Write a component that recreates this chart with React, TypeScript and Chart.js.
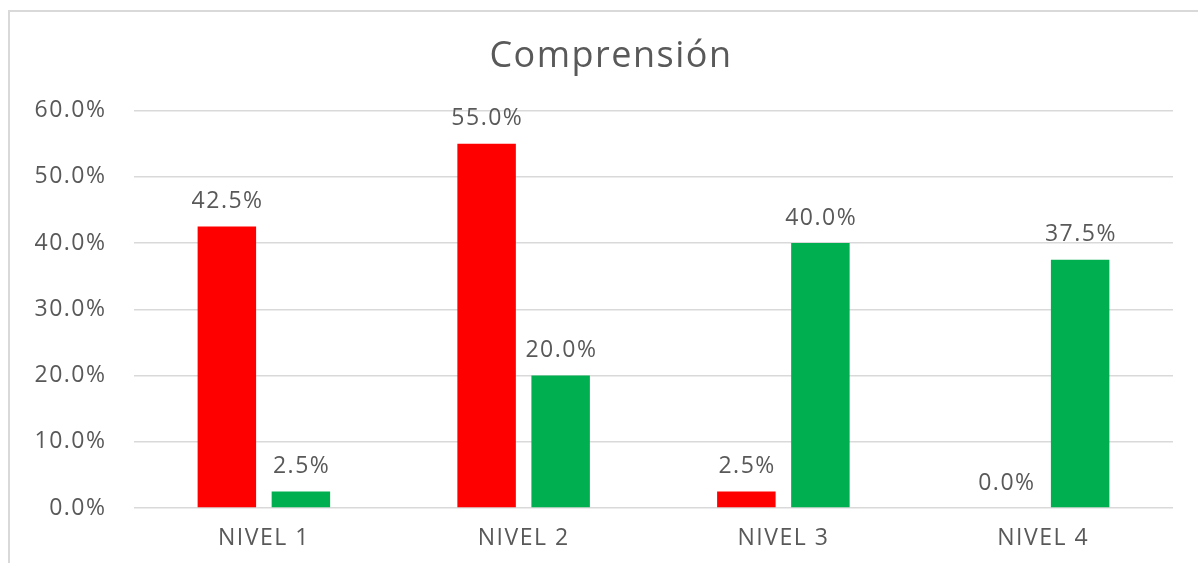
import React, { useEffect, useRef } from "react";
import { Chart, registerables } from "chart.js";

Chart.register(...registerables);

const categories = ["NIVEL 1", "NIVEL 2", "NIVEL 3", "NIVEL 4"];
const seriesRed = [42.5, 55.0, 2.5, 0.0];
const seriesGreen = [2.5, 20.0, 40.0, 37.5];
const yTicksMax = 60;
const yTicksStep = 10;
const titleText = "Comprensión";

const TEXT_COLOR = "#595959";
const FONT = "'Open Sans', 'DejaVu Sans', sans-serif";
const SPACING = 1.5;

const spacingPlugin = {
  id: "spacing",
  beforeDraw(chart: any) {
    (chart.ctx as any).letterSpacing = SPACING + "px";
  },
  afterDraw(chart: any) {
    (chart.ctx as any).letterSpacing = "0px";
  },
};

const dataLabelPlugin = {
  id: "dataLabels",
  afterDatasetsDraw(chart: any) {
    const ctx = chart.ctx;
    ctx.save();
    ctx.font = `23px ${FONT}`;
    ctx.fillStyle = TEXT_COLOR;
    ctx.textAlign = "center";
    ctx.textBaseline = "middle";
    chart.data.datasets.forEach((ds: any, i: number) => {
      const meta = chart.getDatasetMeta(i);
      meta.data.forEach((el: any, j: number) => {
        const v = ds.data[j] as number;
        ctx.fillText(v.toFixed(1) + "%", el.x + SPACING / 2, el.y - 25);
      });
    });
    ctx.restore();
  },
};

const titleShiftPlugin = {
  id: "titleShift",
  afterLayout(chart: any) {
    if (chart.titleBlock) {
      chart.titleBlock.left = 49;
    }
  },
};

export default function App() {
  const ref = useRef<HTMLCanvasElement | null>(null);

  useEffect(() => {
    if (!ref.current) return;
    const chart = new Chart(ref.current, {
      type: "bar",
      data: {
        labels: categories,
        datasets: [
          {
            label: "Serie 1",
            data: seriesRed,
            backgroundColor: "#ff0000",
            categoryPercentage: 0.57,
            barPercentage: 0.79,
          },
          {
            label: "Serie 2",
            data: seriesGreen,
            backgroundColor: "#00b050",
            categoryPercentage: 0.57,
            barPercentage: 0.79,
          },
        ],
      },
      options: {
        animation: false,
        responsive: false,
        maintainAspectRatio: false,
        layout: { padding: { left: 0, right: 25, top: 37, bottom: 0 } },
        plugins: {
          legend: { display: false },
          tooltip: { enabled: false },
          title: {
            display: true,
            text: titleText,
            color: TEXT_COLOR,
            font: { family: FONT, size: 36, weight: "normal", lineHeight: 1.1 },
            padding: { top: 0, bottom: 34 },
          },
        },
        scales: {
          x: {
            grid: { display: false, drawTicks: false },
            border: { display: false },
            afterFit(scale: any) {
              scale.height = 55;
            },
            ticks: {
              color: TEXT_COLOR,
              font: { family: FONT, size: 23, lineHeight: 1.2 },
              padding: 17,
            },
          },
          y: {
            min: 0,
            max: yTicksMax,
            grid: { color: "#d9d9d9", lineWidth: 1.5, drawTicks: false },
            border: { display: false },
            afterFit(scale: any) {
              scale.width = 134;
            },
            ticks: {
              stepSize: yTicksStep,
              color: TEXT_COLOR,
              padding: 27.5,
              font: { family: FONT, size: 23, lineHeight: 1.2 },
              callback: (v: any) => Number(v).toFixed(1) + "%",
            },
          },
        },
      },
      plugins: [spacingPlugin, dataLabelPlugin, titleShiftPlugin],
    });
    return () => chart.destroy();
  }, []);

  return (
    <div style={{ position: "fixed", left: 0, top: 0, width: 1198, height: 563, background: "#fff", overflow: "hidden" }}>
      <div
        style={{
          position: "absolute",
          left: 8,
          top: 10,
          right: 0,
          bottom: 0,
          borderLeft: "2px solid #d9d9d9",
          borderTop: "2px solid #d9d9d9",
        }}
      />
      <canvas ref={ref} width={1198} height={563} style={{ position: "absolute", left: 0, top: 0 }} />
    </div>
  );
}
